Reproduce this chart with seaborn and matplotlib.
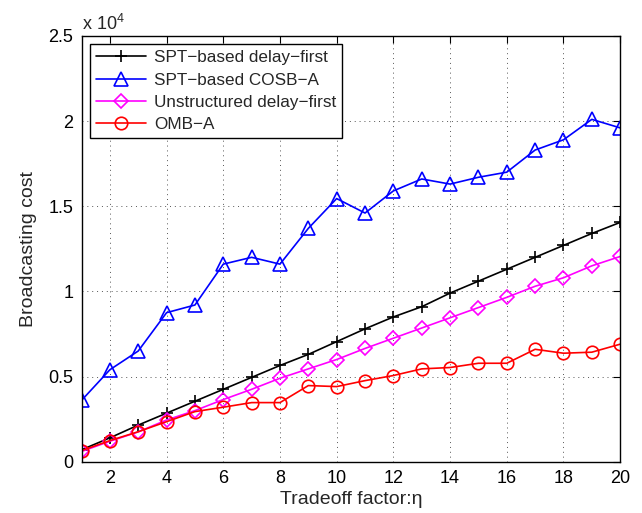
import matplotlib
matplotlib.use("Agg")
import matplotlib.pyplot as plt
import seaborn as sns
import numpy as np
import pandas as pd
from matplotlib.ticker import FuncFormatter, MultipleLocator

eta = list(range(1, 21))
spt_delay_first = [700, 1400, 2150, 2850, 3550, 4250, 4950, 5650, 6300, 7050,
                   7800, 8500, 9100, 9900, 10600, 11300, 12000, 12700, 13400, 14050]
spt_cosb_a = [3600, 5400, 6500, 8750, 9200, 11600, 12000, 11600, 13700, 15450,
              14600, 15900, 16600, 16300, 16700, 17000, 18300, 18900, 20100, 19600]
unstructured_delay_first = [600, 1200, 1750, 2450, 3000, 3650, 4250, 4900, 5450, 6000,
                            6650, 7250, 7850, 8450, 9050, 9650, 10300, 10800, 11500, 12050]
omb_a = [650, 1240, 1760, 2350, 2940, 3200, 3470, 3470, 4470, 4410,
         4760, 5060, 5450, 5530, 5780, 5780, 6600, 6370, 6430, 6900]

series_names = ["SPT\u2212based delay\u2212first", "SPT\u2212based COSB\u2212A",
                "Unstructured delay\u2212first", "OMB\u2212A"]
series_vals = [spt_delay_first, spt_cosb_a, unstructured_delay_first, omb_a]
colors = ["#000000", "#0000ff", "#ff00ff", "#ff0000"]
markers = ["+", "^", "D", "o"]
msizes = [9, 10, 7, 9]

sns.set_style("white")
plt.rcParams['font.family'] = ['Liberation Sans', 'DejaVu Sans']
plt.rcParams['mathtext.fontset'] = 'custom'
plt.rcParams['mathtext.rm'] = 'Liberation Sans'

fig = plt.figure(figsize=(6.42, 5.13), dpi=100)
ax = fig.add_axes([0.127, 0.100, 0.839, 0.830])

for name, vals, c, m, ms in zip(series_names, series_vals, colors, markers, msizes):
    df = pd.DataFrame({"eta": eta, "cost": vals})
    sns.lineplot(data=df, x="eta", y="cost", ax=ax, color=c, marker=m,
                 markersize=ms, markerfacecolor='none', markeredgecolor=c,
                 markeredgewidth=1.2, linewidth=1.2, label=name)

ax.set_xlim(1, 20)
ax.set_ylim(0, 25000)
ax.xaxis.set_major_locator(MultipleLocator(2))
ax.yaxis.set_major_locator(MultipleLocator(5000))
ax.yaxis.set_major_formatter(FuncFormatter(lambda v, p: "%g" % (v / 1e4)))
ax.grid(True, linestyle=(0, (1, 4)), color='#555555', linewidth=0.7)
ax.tick_params(direction='in', top=True, right=True, length=5, width=0.8,
               labelsize=13, colors='black', pad=6)
for s in ax.spines.values():
    s.set_color('black')
    s.set_linewidth(1.0)
ax.set_xlabel("Tradeoff factor:\u03b7", fontsize=14, labelpad=3)
ax.set_ylabel("Broadcasting cost", fontsize=14, labelpad=8)
ax.text(0.0, 1.005, r"x 10$^4$", transform=ax.transAxes, fontsize=13,
        ha='left', va='bottom')

leg = ax.legend(loc='upper left', fontsize=12.3, frameon=True, fancybox=False,
                edgecolor='black', framealpha=1, borderaxespad=0.5,
                handlelength=2.9, handletextpad=0.5, labelspacing=0.42,
                borderpad=0.35)
leg.get_frame().set_linewidth(1.0)

fig.savefig("out.png", dpi=100)
